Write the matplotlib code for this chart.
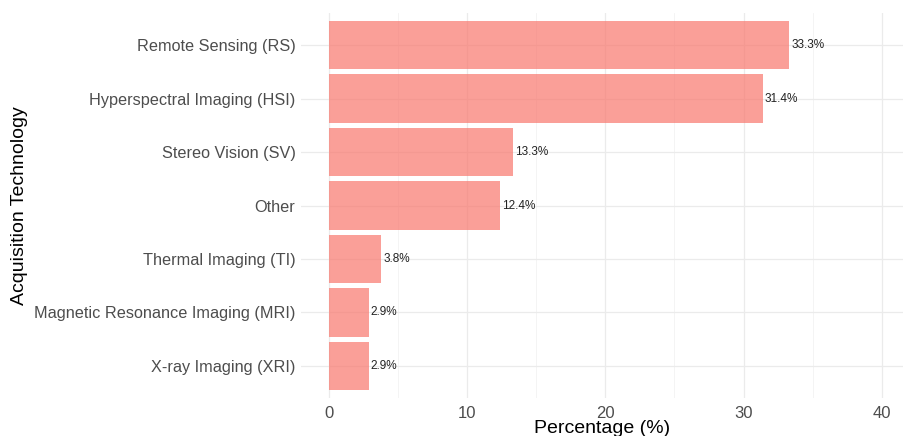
import matplotlib
matplotlib.use("Agg")
import matplotlib.pyplot as plt

categories = ["Remote Sensing (RS)", "Hyperspectral Imaging (HSI)", "Stereo Vision (SV)",
              "Other", "Thermal Imaging (TI)", "Magnetic Resonance Imaging (MRI)",
              "X-ray Imaging (XRI)"]
values = [33.3, 31.4, 13.3, 12.4, 3.8, 2.9, 2.9]
labels = ["33.3%", "31.4%", "13.3%", "12.4%", "3.8%", "2.9%", "2.9%"]
xticks = [0, 10, 20, 30, 40]

plt.rcParams['font.family'] = ['Liberation Sans', 'DejaVu Sans']

fig = plt.figure(figsize=(9.04, 4.36), dpi=100)
ax = fig.add_axes([301/904, 1 - 398/436, (904 - 301)/904, (398 - 13)/436])

n = len(categories)
ypos = list(range(n))
ax.barh(ypos, values, height=0.9, color='#F8766D', alpha=0.7, edgecolor='none', zorder=2)
for y, v, lab in zip(ypos, values, labels):
    ax.text(v + 0.15, y, lab, va='center', ha='left', fontsize=8.5, color='#222222', zorder=3)

ax.set_yticks(ypos)
ax.set_yticklabels(categories)
ax.set_ylim(n - 0.4, -0.6)
ax.set_xlim(-2, 41.6)
ax.set_xticks(xticks)
ax.set_xticks([5, 15, 25, 35], minor=True)

ax.grid(True, which='major', color='#EBEBEB', linewidth=0.9, zorder=0)
ax.grid(True, which='minor', axis='x', color='#F3F3F3', linewidth=0.6, zorder=0)
ax.set_axisbelow(True)
for s in ax.spines.values():
    s.set_visible(False)
ax.tick_params(axis='both', which='both', length=0)
ax.tick_params(axis='y', labelsize=11.7, labelcolor='#4D4D4D', pad=4)
ax.tick_params(axis='x', labelsize=12, labelcolor='#4D4D4D', pad=6)

ax.set_xlabel("Percentage (%)", fontsize=14, color='black')
ax.set_ylabel("Acquisition Technology", fontsize=14, color='black')
ax.yaxis.set_label_coords((20 - 301) / 603, 0.5)
ax.xaxis.set_label_coords(0.5, -(428 - 398) / 385)
ax.xaxis.label.set_va('center')
ax.yaxis.label.set_va('center')

fig.savefig("out.png", dpi=100)
